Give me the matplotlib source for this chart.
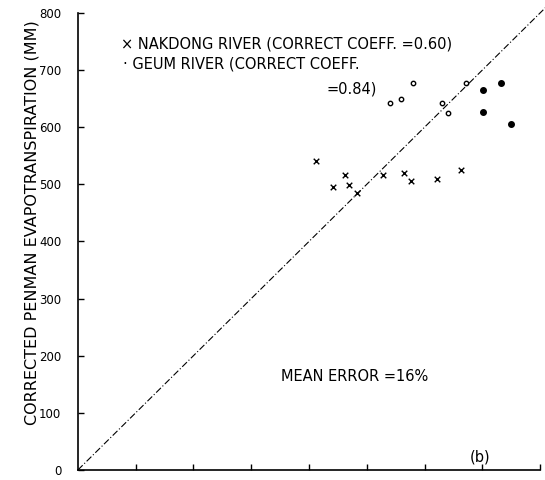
import numpy as np
import matplotlib.pyplot as plt

# Nakdong river points (measured vs corrected Penman, mm)
nak_x = [412, 441, 463, 469, 483, 528, 565, 577, 621, 663]
nak_y = [540, 496, 517, 498, 485, 517, 520, 505, 509, 525]
# Geum river points
geum_x = [541, 560, 580, 630, 641, 672]
geum_y = [643, 649, 678, 643, 625, 678]
geum_fx = [701, 701, 733, 750]
geum_fy = [666, 626, 678, 606]

yticks = [0, 100, 200, 300, 400, 500, 600, 700, 800]
xticks = [100, 200, 300, 400, 500, 600, 700, 800]

fig = plt.figure(figsize=(5.45, 4.8), dpi=100)
ax = fig.add_axes([0.143, 0.021, 0.848, 0.952])

# 1:1 line
ax.plot([0, 812], [0, 812], color="black", lw=0.8, ls=(0, (6, 2, 1, 2)), clip_on=False)

ax.scatter(nak_x, nak_y, marker="x", s=16, color="black", linewidths=1.0)
ax.scatter(geum_x, geum_y, marker="o", s=10, facecolors="white", edgecolors="black", linewidths=1.0)
ax.scatter(geum_fx, geum_fy, marker="o", s=16, color="black")

ax.set_xlim(0, 800)
ax.set_ylim(0, 800)
ax.set_yticks(yticks)
ax.set_yticklabels([str(t) for t in yticks], fontsize=8.5)
ax.set_xticks(xticks)
ax.set_xticklabels([])
ax.tick_params(direction="in", length=4, width=1)
ax.tick_params(axis="y", pad=12)
ax.spines["top"].set_visible(False)
ax.spines["right"].set_visible(False)
ax.spines["left"].set_linewidth(1.2)
ax.spines["bottom"].set_linewidth(1.2)

fig.text(32 / 545, 1 - 223 / 480, "CORRECTED PENMAN EVAPOTRANSPIRATION (MM)",
         fontsize=11.5, rotation=90, ha="center", va="center")

ax.text(74, 746, "× NAKDONG RIVER (CORRECT COEFF. =0.60)", fontsize=10.5, va="center")
ax.text(78, 711, "· GEUM RIVER (CORRECT COEFF.", fontsize=10.5, va="center")
ax.text(430, 667, "=0.84)", fontsize=10.5, va="center")
ax.text(351, 163, "MEAN ERROR =16%", fontsize=10.5, va="center")
ax.text(678, 23, "(b)", fontsize=10.5, va="center")

fig.savefig("out.png", dpi=100)
